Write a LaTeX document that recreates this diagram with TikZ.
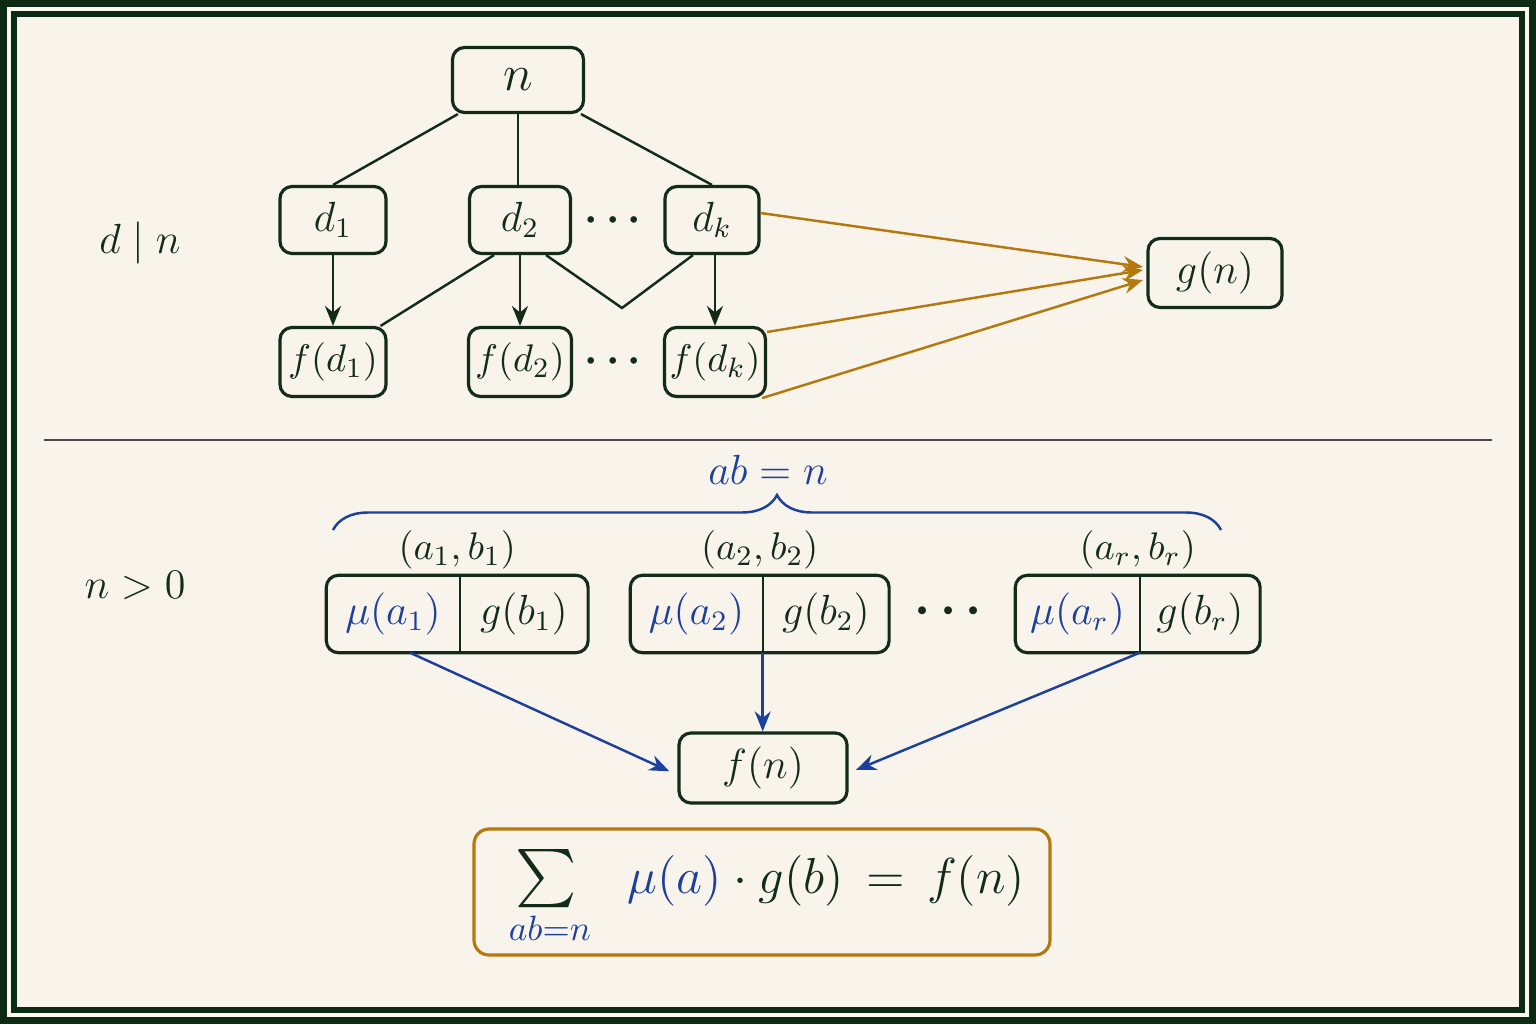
\documentclass[tikz,border=0pt]{standalone}
\usepackage{amsmath,amssymb,bm}
\usepackage{xcolor}
\definecolor{frm}{HTML}{0D2B13}
\definecolor{ink}{HTML}{132C18}
\definecolor{blu}{HTML}{1D3F9E}
\definecolor{gold}{HTML}{B5780F}
\definecolor{paper}{HTML}{F8F4EB}
\definecolor{gap}{HTML}{FBFAF3}
\definecolor{rulec}{HTML}{4A4A4A}
\usetikzlibrary{arrows.meta,positioning,calc,decorations.pathreplacing}
\tikzset{
  >={Stealth[length=2mm,width=1.6mm]},
  box/.style={draw=ink,rounded corners=1.2mm,line width=0.9pt,minimum height=6.7mm,inner sep=1pt,font=\large,text=ink},
  pbox/.style={draw=ink,rounded corners=1.2mm,line width=0.9pt},
  half/.style={minimum height=7.6mm,inner sep=0pt,font=\large,text=ink},
  divl/.style={draw=ink,line width=0.5pt},
  lab/.style={font=\large,text=ink},
  plab/.style={font=\fontsize{11}{13}\selectfont,text=ink},
  blab/.style={font=\large,text=blu},
  tree/.style={draw=ink,line width=0.7pt},
  arr/.style={->,draw=ink,line width=0.7pt},
  garr/.style={->,draw=gold,line width=0.7pt},
  barr/.style={->,draw=blu,line width=0.7pt},
}
\begin{document}
\begin{tikzpicture}
% frame and paper
\fill[frm] (0,0) rectangle (15.36,10.24);
\fill[gap] (0.07,0.07) rectangle (15.29,10.17);
\fill[frm] (0.11,0.11) rectangle (15.25,10.13);
\fill[paper] (0.17,0.17) rectangle (15.19,10.07);
\useasboundingbox (0,0) rectangle (15.36,10.24);

% divisors of n
\node[box,minimum width=13.1mm,minimum height=6.5mm,font=\Large] (n) at (5.18,9.44) {$n$};
\node[box,minimum width=10.6mm] (d1) at (3.33,8.04) {$d_1$};
\node[box,minimum width=10.1mm] (d2) at (5.20,8.04) {$d_2$};
\node[lab] (dd) at (6.17,8.03) {$\bm{\cdots}$};
\node[box,minimum width=9.4mm] (dk) at (7.12,8.04) {$d_k$};
\node[box,minimum width=10.6mm,minimum height=6.9mm,font=\fontsize{11}{13}\selectfont] (fd1) at (3.33,6.62) {$f(d_1)$};
\node[box,minimum width=10.3mm,minimum height=6.9mm,font=\fontsize{11}{13}\selectfont] (fd2) at (5.20,6.62) {$f(d_2)$};
\node[lab] (fdd) at (6.17,6.62) {$\bm{\cdots}$};
\node[box,minimum width=10.1mm,minimum height=6.9mm,font=\fontsize{11}{13}\selectfont] (fdk) at (7.15,6.62) {$f(d_k)$};
\node[box,minimum width=13.4mm,minimum height=6.9mm] (gn) at (12.15,7.51) {$g(n)$};
\node[lab] (dn) at (1.40,7.81) {$d\mid n$};

\draw[tree] (n) -- (d1.north);
\draw[tree] (n.south) -- (n.south |- d2.north);
\draw[tree] (n) -- (dk.north);
\foreach \u/\v in {d1/fd1,d2/fd2,dk/fdk} \draw[arr] (\v.north |- \u.south) -- (\v.north);
\draw[tree] ([xshift=-2.6mm]d2.south) -- ([xshift=-0.7mm]fd1.north east);
\coordinate (vv) at (6.22,7.16);
\draw[tree] ([xshift=2.6mm]d2.south) -- (vv) -- ([xshift=-1.9mm]dk.south);

% into g(n)
\coordinate (gi1) at (11.43,7.57);
\coordinate (gi2) at (11.43,7.54);
\coordinate (gi3) at (11.43,7.44);
\draw[garr] ([yshift=0.7mm]dk.east) -- (gi1);
\draw[garr] ([yshift=3mm]fdk.east) -- (gi2);
\draw[garr] ([xshift=-0.5mm]fdk.south east) -- (gi3);

% separator
\draw[rulec,line width=0.5pt] (0.44,5.84) -- (14.92,5.84);

% pairs ab = n
\node[lab] (npos) at (1.35,4.39) {$n>0$};
\node[half,text=blu,minimum width=13.2mm] (m1) at (3.93,4.10) {$\mu(a_1)$};
\node[half,minimum width=12.7mm,right=0pt of m1] (g1) {$g(b_1)$};
\node[half,text=blu,minimum width=13.1mm] (m2) at (6.965,4.10) {$\mu(a_2)$};
\node[half,minimum width=12.5mm,right=0pt of m2] (g2) {$g(b_2)$};
\node[lab,font=\Large] (pd) at (9.53,4.12) {$\bm{\cdots}$};
\node[half,text=blu,minimum width=12.3mm] (mr) at (10.775,4.10) {$\mu(a_r)$};
\node[half,minimum width=11.9mm,right=0pt of mr] (gr) {$g(b_r)$};
\foreach \i in {1,2,r} {
  \draw[pbox] (m\i.north west) rectangle (g\i.south east);
  \draw[divl] (m\i.north east) -- (m\i.south east);
}
\node[plab,above=-0.6mm] (l1) at ($(m1.north west)!.5!(g1.north east)$) {$(a_1,b_1)$};
\node[plab,above=-0.6mm] (l2) at ($(m2.north west)!.5!(g2.north east)$) {$(a_2,b_2)$};
\node[plab,above=-0.6mm] (lr) at ($(mr.north west)!.5!(gr.north east)$) {$(a_r,b_r)$};

\coordinate (bl) at (3.33,4.94);
\coordinate (br) at (12.21,4.94);
\draw[blu,line width=0.7pt,decorate,decoration={brace,amplitude=3.5mm}] (bl) -- (br);
\node[blab] (abn) at (7.68,5.54) {$ab=n$};

% f(n)
\node[box,minimum width=16.8mm,minimum height=7mm] (fn) at (7.63,2.56) {$f(n)$};
\draw[barr,shorten >=0.9mm] ([xshift=1.7mm]m1.south) -- ([yshift=-0.7mm]fn.west);
\draw[barr] (m2.south east) -- (m2.south east |- fn.north);
\draw[barr,shorten >=0.8mm] (mr.south east) -- ([yshift=-0.5mm]fn.east);

% the identity
\node[draw=gold,line width=0.9pt,rounded corners=1.5mm,minimum width=57.6mm,minimum height=12.6mm] (sum) at (7.62,1.32) {};
\node[font=\Large,text=ink] (sumtx) at ([xshift=0.5mm,yshift=-0.6mm]sum.center)
  {$\mathop{\scalebox{1.15}{$\sum$}}\limits_{\color{blu}ab=n}\;\;{\color{blu}\mu(a)}\cdot g(b)\,=\,f(n)$};
\end{tikzpicture}
\end{document}
